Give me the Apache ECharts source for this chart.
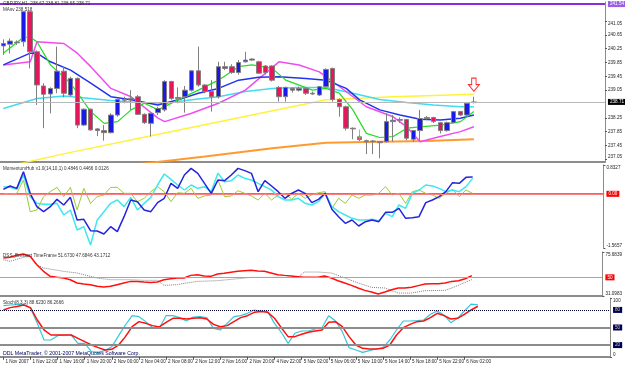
<!DOCTYPE html>
<html>
<head>
<meta charset="utf-8">
<script src="https://cdn.jsdelivr.net/npm/echarts@6/dist/echarts.min.js"></script>
<style>
html, body { margin: 0; padding: 0; background: #fff; }
#chart { width: 625px; height: 365px; }
</style>
</head>
<body>
<div id="chart"></div>
<script>
// GBPJPY H1, 1 Nov 2007 08:00 -> 6 Nov 2007 04:00 (71 bars) + empty space on the right
const tickLabels = ['1 Nov 2007', '1 Nov 12:00', '1 Nov 16:00', '1 Nov 20:00', '2 Nov 00:00', '2 Nov 04:00',
  '2 Nov 08:00', '2 Nov 12:00', '2 Nov 16:00', '2 Nov 20:00', '4 Nov 22:00', '5 Nov 02:00', '5 Nov 06:00',
  '5 Nov 10:00', '5 Nov 14:00', '5 Nov 18:00', '5 Nov 22:00', '6 Nov 02:00'];
const slotCount = 90;

// [open, close, low, high]
const candles = [
  [240.33, 240.40, 240.07, 240.52], [240.38, 240.47, 240.11, 240.55], [240.42, 240.44, 240.36, 240.49],
  [240.45, 241.32, 240.31, 241.34], [241.32, 240.16, 239.68, 241.33], [240.16, 239.20, 238.62, 240.20],
  [239.17, 238.93, 237.95, 239.25], [238.94, 239.10, 238.38, 239.13], [239.10, 239.60, 238.96, 240.31],
  [239.60, 238.96, 238.84, 239.73], [238.91, 239.39, 238.86, 239.44], [239.39, 238.04, 237.95, 239.42],
  [238.04, 238.50, 238.01, 238.52], [238.50, 237.90, 237.88, 238.52], [237.93, 237.88, 237.72, 237.95],
  [237.88, 237.82, 237.59, 238.04], [237.82, 238.33, 237.80, 238.38], [238.33, 238.78, 238.28, 238.81],
  [238.78, 238.76, 238.67, 238.86], [238.77, 238.81, 238.48, 239.05], [238.86, 238.35, 238.33, 238.91],
  [238.35, 238.11, 238.07, 238.38], [238.09, 238.38, 237.71, 238.40], [238.40, 238.52, 238.33, 238.57],
  [238.48, 239.30, 238.43, 239.34], [239.30, 238.81, 238.77, 239.32], [238.84, 238.81, 238.67, 239.13],
  [238.86, 239.05, 238.40, 239.17], [239.05, 239.61, 239.01, 239.63], [239.61, 239.20, 239.15, 240.31],
  [239.20, 239.01, 238.96, 239.22], [239.01, 238.86, 238.43, 239.34], [238.86, 239.73, 238.81, 239.87],
  [239.73, 239.68, 239.63, 239.87], [239.73, 239.56, 239.52, 239.80], [239.56, 239.85, 239.50, 239.92],
  [239.87, 239.92, 239.85, 240.16], [239.92, 239.95, 239.90, 239.97], [239.87, 239.54, 239.52, 239.90],
  [239.75, 239.56, 239.50, 239.77], [239.75, 239.34, 239.30, 239.77], [239.13, 238.86, 238.72, 239.17],
  [238.86, 239.13, 238.72, 239.15], [239.10, 239.05, 238.98, 239.13], [239.05, 239.10, 239.01, 239.15],
  [239.10, 238.96, 238.91, 239.13], [238.94, 238.96, 238.91, 239.01], [238.91, 239.15, 238.88, 239.17],
  [239.15, 239.65, 239.13, 239.68], [239.68, 238.78, 238.72, 239.70], [238.78, 238.57, 238.28, 238.81],
  [238.57, 237.95, 237.88, 238.60], [237.95, 237.93, 237.63, 237.97], [237.70, 237.62, 237.58, 237.75],
  [237.59, 237.56, 237.20, 237.62], [237.58, 237.56, 237.20, 237.61], [237.56, 237.53, 237.08, 237.58],
  [237.56, 238.14, 237.53, 238.38], [238.14, 238.18, 237.56, 238.33], [238.18, 238.20, 238.10, 238.26],
  [238.20, 237.66, 237.60, 238.22], [237.63, 237.88, 237.56, 237.90], [237.88, 238.23, 237.60, 238.48],
  [238.23, 238.26, 238.20, 238.30], [238.26, 238.14, 238.10, 238.28], [238.11, 237.88, 237.80, 238.13],
  [237.88, 238.11, 237.85, 238.14], [238.11, 238.43, 238.09, 238.45], [238.43, 238.33, 238.30, 238.45],
  [238.33, 238.67, 238.30, 238.69], [238.69, 238.71, 238.67, 238.86]
];

// moving averages on the price chart, [bar, price]
const maGreen = [[0, 240.12], [3, 240.58], [4, 240.58], [5, 240.45], [7, 239.78], [10, 239.25], [13, 238.43],
  [15, 238.09], [17, 238.14], [19, 238.48], [21, 238.67], [23, 238.48], [26, 238.77], [29, 239.05], [32, 239.34],
  [35, 239.73], [37, 239.78], [40, 239.68], [42, 239.34], [46, 239.05], [48, 239.10], [50, 238.96], [52, 238.48],
  [54, 237.80], [56, 237.68], [58, 237.71], [60, 237.95], [62, 237.99], [65, 238.04], [68, 238.14], [70, 238.43]];
const maBlue = [[0, 239.78], [4, 240.12], [5, 240.12], [7, 239.87], [10, 239.63], [13, 239.25], [16, 238.86],
  [19, 238.77], [23, 238.62], [26, 238.77], [29, 238.96], [32, 239.10], [35, 239.34], [38, 239.42], [41, 239.44],
  [45, 239.39], [48, 239.34], [51, 239.10], [53, 238.77], [56, 238.48], [59, 238.33], [62, 238.21], [65, 238.19],
  [68, 238.24], [70, 238.33]];
const maMagenta = [[0, 239.78], [4, 239.87], [5, 240.45], [9, 240.40], [11, 240.12], [13, 239.73], [16, 239.10],
  [19, 238.86], [23, 238.24], [24, 238.14], [28, 238.38], [32, 238.67], [36, 239.05], [41, 239.87], [44, 239.78],
  [47, 239.58], [49, 239.30], [54, 238.57], [58, 238.28], [60, 237.99], [62, 237.56], [65, 237.71], [68, 237.85],
  [70, 237.99]];
const maCyan = [[0, 238.52], [5, 238.81], [9, 238.88], [13, 238.81], [16, 238.75], [20, 238.69], [24, 238.67],
  [28, 238.77], [32, 238.86], [36, 239.01], [40, 239.10], [44, 239.13], [48, 239.13], [52, 238.96], [56, 238.78],
  [60, 238.69], [64, 238.62], [68, 238.57], [70, 238.57]];
const maYellow = [[0, 236.82], [10, 237.25], [22, 237.73], [35, 238.25], [48, 238.77], [58, 238.86], [70, 238.93]];
const maOrange = [[15, 236.85], [21, 236.93], [30, 237.13], [40, 237.37], [48, 237.53], [56, 237.56], [63, 237.58], [70, 237.63]];

const mainTicks = [237.05, 237.45, 237.85, 238.25, 239.05, 239.45, 239.85, 240.25, 240.65, 241.05];
const highLevel = 241.54;
const lastPrice = 238.71;
const sellArrow = [70, 239.21];
const buyArrow = [53, 237.77];

// MomentumHub
const momBlue = [0.130, 0.226, 0.158, 0.640, 0.014, -0.371, -0.516, -0.371, -0.159, -0.323, -0.102, -0.756,
  -0.737, -1.065, -1.074, -1.161, -0.949, -1.093, -0.660, -0.179, -0.227, -0.468, -0.516, -0.256, -0.130, 0.303,
  0.158, 0.544, 0.736, 0.592, 0.303, 0.014, 0.399, 0.380, 0.544, 0.736, 0.669, 0.592, 0.062, 0.380, 0.226, 0.062,
  -0.130, 0.014, 0.110, 0.014, -0.256, -0.159, 0.014, -0.448, -0.660, -0.853, -0.756, -0.930, -0.805, -0.756,
  -0.805, -0.535, -0.535, -0.419, -0.708, -0.689, -0.660, -0.256, -0.179, -0.082, 0.062, 0.322, 0.303, 0.476, 0.485];
const momCyan = [0.207, 0.187, 0.130, 0.544, -0.082, -0.275, -0.304, -0.304, -0.275, -0.612, -0.468, -1.045,
  -0.949, -1.479, -0.756, -0.516, -0.275, -0.179, -0.371, -0.102, -0.468, -0.275, -0.102, 0.255, 0.573, 0.419,
  0.255, 0.110, 0.255, 0.158, 0.207, 0.062, 0.592, 0.351, 0.380, 0.544, 0.447, 0.399, 0.303, 0.207, 0.110, -0.082,
  -0.179, -0.179, -0.130, -0.275, -0.323, -0.227, 0.014, -0.371, -0.516, -0.612, -0.708, -0.756, -0.756, -0.737,
  -0.776, -0.564, -0.660, -0.323, -0.419, 0.014, 0.110, 0.255, 0.226, 0.158, 0.062, 0.110, 0.062, 0.207, 0.447];
const momOlive = [0.014, -0.005, 0.014, 0.399, -0.516, -0.468, -0.082, 0.062, 0.187, -0.082, 0.187, -0.468,
  0.158, -0.275, -0.082, -0.034, 0.187, 0.187, 0.014, 0.014, -0.227, -0.130, 0.062, 0.207, 0.062, -0.227, 0.033,
  0.014, 0.158, -0.130, -0.063, -0.034, 0.399, -0.082, -0.063, 0.091, 0.014, -0.063, -0.179, 0.014, -0.179, -0.034,
  0.014, -0.159, 0.014, -0.130, -0.034, 0.033, 0.062, -0.419, -0.130, -0.275, -0.034, -0.130, -0.034, -0.034,
  0.014, 0.207, -0.034, 0.014, -0.275, 0.062, 0.110, 0.014, -0.034, -0.130, 0.014, 0.130, -0.082, 0.110, 0.013];
const momTicks = [-1.5657, 0.8327];

// DSS Bressert
const dssMain = [69.6, 70.3, 72.3, 73.6, 71.3, 62.8, 56.1, 51.0, 50.0, 49.3, 47.6, 44.3, 43.2, 42.6, 40.9, 40.2,
  40.9, 42.6, 44.3, 45.9, 45.9, 45.3, 44.9, 45.3, 47.6, 48.6, 49.3, 49.3, 52.0, 52.7, 51.4, 51.0, 53.4, 54.1, 55.1,
  56.1, 56.8, 57.1, 56.4, 56.1, 54.4, 52.7, 52.0, 51.4, 50.7, 50.0, 50.0, 50.0, 51.4, 49.3, 46.6, 44.3, 41.9, 39.2,
  36.8, 35.1, 33.1, 35.1, 37.5, 39.2, 39.2, 39.9, 41.6, 43.2, 43.6, 43.6, 44.3, 45.9, 46.6, 48.6, 51.7];
const dssSignal = [[0, 67.9], [1, 66.2], [3, 70.3], [4, 71.3], [5, 62.8], [6, 59.5], [9, 56.1], [11, 54.4],
  [14, 49.3], [16, 47.6], [19, 47.6], [21, 47.0], [23, 47.0], [24, 41.9], [26, 42.6], [27, 43.9], [29, 45.9],
  [32, 46.6], [35, 48.6], [37, 50.0], [41, 50.0], [44, 50.0], [45, 55.4], [47, 55.4], [49, 54.4], [50, 52.0],
  [53, 44.3], [55, 39.9], [57, 39.2], [59, 34.1], [61, 34.1], [63, 36.5], [66, 36.8], [67, 39.2], [70, 47.7]];
const dssTicks = [31.0983, 75.6839];

// Stochastic (8,3,3)
const stochMain = [87.3, 88.4, 89.0, 89.6, 82.7, 57.1, 28.7, 28.7, 36.1, 37.2, 37.2, 23.0, 23.0, 8.8, 7.6, 11.0,
  17.3, 36.1, 54.3, 70.2, 68.5, 60.0, 49.7, 48.6, 70.2, 70.2, 66.8, 61.1, 67.9, 68.5, 66.8, 48.6, 45.8, 57.1, 68.5,
  70.2, 74.2, 79.9, 78.2, 77.1, 57.1, 41.8, 23.0, 40.1, 44.0, 44.0, 47.5, 49.7, 70.2, 61.1, 42.9, 15.6, 11.6, 7.6,
  10.5, 13.3, 15.6, 28.7, 45.8, 61.1, 61.1, 61.7, 62.8, 72.5, 78.2, 71.4, 58.3, 65.7, 78.2, 90.0, 88.6];
const stochSignal = [79.9, 83.9, 86.0, 88.4, 83.9, 62.8, 45.8, 37.2, 37.2, 37.2, 37.2, 31.5, 25.8, 20.2, 15.6,
  11.6, 12.8, 20.2, 34.4, 51.4, 60.0, 57.1, 53.2, 50.9, 58.8, 65.7, 65.7, 64.5, 65.7, 66.8, 64.5, 55.4, 51.4, 53.2,
  60.0, 66.8, 70.2, 75.9, 77.1, 75.9, 65.7, 49.7, 34.4, 34.4, 38.4, 41.8, 44.0, 45.8, 58.8, 60.0, 51.4, 34.4, 20.2,
  14.5, 13.3, 13.3, 14.5, 20.2, 37.2, 49.7, 55.4, 60.0, 61.1, 66.8, 74.2, 70.2, 64.5, 65.7, 72.5, 79.9, 86.3];
const stochLevels = [80, 50, 20];
const stochTicks = [0, 100];

const chart = echarts.init(document.getElementById('chart'));
const slots = [];
for (let i = 0; i < slotCount; i++) slots.push(String(i));

const font = 'Liberation Sans';
const small = 4.6;
const frame = '#8c8c8c';
const gridBox = [
  { top: 2, height: 160 },
  { top: 165, height: 83 },
  { top: 252, height: 44 },
  { top: 298.2, height: 58.6 }
];

const xAxes = gridBox.map((g, k) => ({
  type: 'category', gridIndex: k, data: slots, boundaryGap: true,
  axisLine: { show: true, lineStyle: { color: frame, width: 2 } },
  axisTick: k === 3 ? {
    show: true, alignWithLabel: true, length: 3, lineStyle: { color: '#555' },
    interval: (idx) => idx % 4 === 0 && idx <= 68
  } : { show: false },
  axisLabel: k === 3 ? {
    show: true, interval: 3, showMinLabel: true, fontSize: small, fontFamily: font, color: '#222',
    align: 'left', margin: 2, padding: [0, 0, 0, 2], formatter: (v, idx) => tickLabels[idx / 4] || ''
  } : { show: false },
  splitLine: { show: false }
}));

function yAxisFor(k, min, max, ticks, digits) {
  return {
    type: 'value', gridIndex: k, position: 'right', min: min, max: max, scale: true,
    axisLine: { show: true, lineStyle: { color: frame } },
    axisTick: { show: true, customValues: ticks, length: 2, lineStyle: { color: '#555' } },
    axisLabel: {
      show: true, customValues: ticks, fontSize: small, fontFamily: font, color: '#222', margin: 3,
      verticalAlignMinLabel: 'bottom', verticalAlignMaxLabel: 'top',
      formatter: (v) => v.toFixed(digits)
    },
    splitLine: { show: false }
  };
}

function line(k, data, color, width, extra) {
  return Object.assign({
    type: 'line', xAxisIndex: k, yAxisIndex: k, data: data, symbol: 'none', silent: true,
    lineStyle: { color: color, width: width }, z: 3
  }, extra || {});
}

function levelLabel(text, bg, fg) {
  return {
    show: true, position: 'end', distance: 3, formatter: text, fontSize: small, fontFamily: font,
    color: fg, backgroundColor: bg, padding: [1, 2, 0, 2]
  };
}

function caption(text, top, size, color) {
  return {
    text: text, left: 3, top: top, padding: 0,
    textStyle: { fontSize: size || small, fontWeight: 'normal', color: color || '#333', fontFamily: font }
  };
}

const option = {
  animation: false,
  backgroundColor: '#ffffff',
  title: [
    caption('GBPJPY,H1  238.67 238.81 238.65 238.71', 1),
    caption('MAsv 238.518', 7),
    caption('MomentumHub v1.0(14,10,1) 0.4846 0.4466 0.0126', 166),
    caption('DSS_Bressert TimeFrame 51.6730 47.6846 43.1712', 253),
    caption('Stoch(8,3,3) 88.6230 86.2666', 300),
    caption('DDL MetaTrader, \u00a9 2001-2007 MetaQuotes Software Corp.', 351, 5.2, '#000060')
  ],
  grid: gridBox.map(g => ({ left: -1.4, right: 14.94, top: g.top, height: g.height, containLabel: false })),
  xAxis: xAxes,
  yAxis: [
    yAxisFor(0, 236.972, 241.60, mainTicks, 2),
    yAxisFor(1, -1.5657, 0.8327, momTicks, 4),
    yAxisFor(2, 31.0983, 75.6839, dssTicks, 4),
    yAxisFor(3, 0, 100, stochTicks, 0)
  ],
  series: [
    line(0, maYellow, '#fff23a', 1.5),
    line(0, maOrange, '#ff9a2e', 2),
    line(0, maCyan, '#3fdcf2', 1.5),
    line(0, maMagenta, '#f04cf0', 1.5),
    line(0, maBlue, '#2233ee', 1.5),
    line(0, maGreen, '#22dd22', 1.2),
    {
      type: 'candlestick', xAxisIndex: 0, yAxisIndex: 0, data: candles, barWidth: 5, z: 4,
      itemStyle: {
        color: '#1a1ae6', color0: '#e3175a',
        borderColor: '#808080', borderColor0: '#808080', borderColorDoji: '#808080', borderWidth: 1
      },
      markLine: {
        silent: true, symbol: 'none', animation: false,
        data: [
          { yAxis: highLevel, lineStyle: { color: '#8a2be2', width: 2, type: 'solid' }, label: levelLabel(String(highLevel), '#9b5de5', '#fff') },
          { yAxis: lastPrice, lineStyle: { color: '#b8b8b8', width: 1, type: 'solid' }, label: levelLabel(lastPrice.toFixed(2), '#000', '#fff') }
        ]
      },
      markPoint: {
        silent: true, animation: false,
        data: [
          {
            coord: sellArrow, symbol: 'path://M3,0 L7,0 L7,6 L10,6 L5,12 L0,6 L3,6 Z', symbolSize: [11, 13],
            itemStyle: { color: '#ffffff', borderColor: '#ff3030', borderWidth: 1 }, label: { show: false }
          },
          {
            coord: buyArrow, symbol: 'path://M2,0 L3,0 L3,8 L5,8 L2.5,11 L0,8 L2,8 Z', symbolSize: [4, 10],
            itemStyle: { color: '#33dd33', borderWidth: 0 }, label: { show: false }
          }
        ]
      }
    },
    line(1, momOlive, '#9acd32', 1),
    line(1, momCyan, '#3ee8ee', 1.5),
    line(1, momBlue, '#2424dd', 1.5, {
      markLine: {
        silent: true, symbol: 'none', animation: false,
        data: [{ yAxis: 0, lineStyle: { color: '#ff8080', width: 1, type: 'solid' }, label: levelLabel('0.00', '#ff0000', '#fff') }]
      }
    }),
    line(2, dssSignal, '#808080', 1, { lineStyle: { color: '#808080', width: 1, type: 'dotted' } }),
    line(2, dssMain, '#ff1010', 1.5, {
      markLine: {
        silent: true, symbol: 'none', animation: false,
        data: [{ yAxis: 50, lineStyle: { color: '#ff8080', width: 1, type: 'solid' }, label: levelLabel('50', '#ff0000', '#fff') }]
      }
    }),
    line(3, stochMain, '#35c8d8', 1.2),
    line(3, stochSignal, '#ff1010', 1.5, {
      markLine: {
        silent: true, symbol: 'none', animation: false,
        data: stochLevels.map((lv, n) => ({
          yAxis: lv,
          lineStyle: n === 0 ? { color: '#000030', width: 1, type: 'dotted' } : { color: '#8c8c8c', width: 2, type: 'solid' },
          label: levelLabel(String(lv), '#000050', '#ccc')
        }))
      }
    })
  ]
};

chart.setOption(option);
</script>
</body>
</html>
